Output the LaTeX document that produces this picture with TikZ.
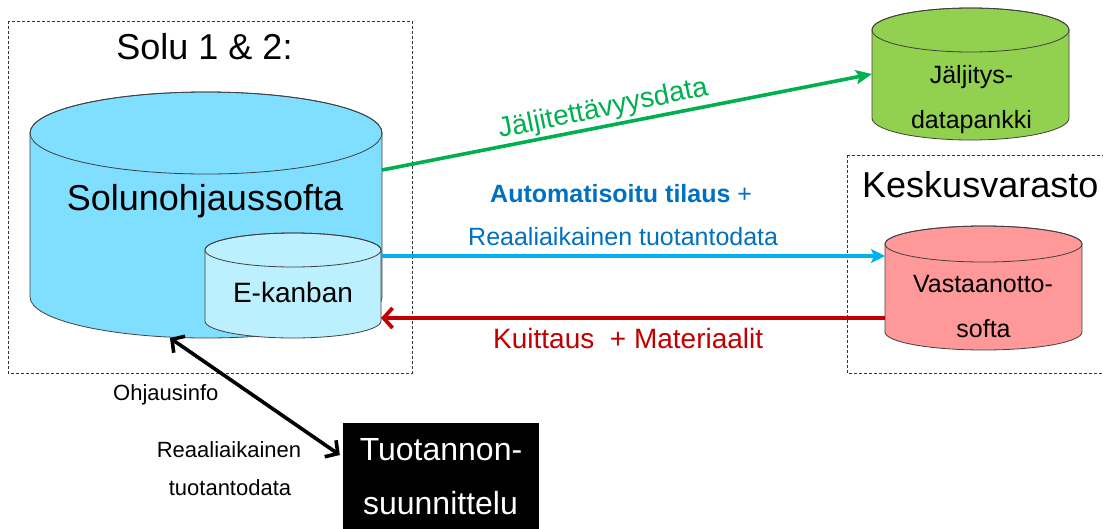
\documentclass[tikz,border=0pt]{standalone}
\usepackage{fontspec}
\setmainfont{Liberation Sans}
\usetikzlibrary{arrows.meta}

\definecolor{cylblue}{RGB}{128,223,255}
\definecolor{cyllight}{RGB}{189,240,255}
\definecolor{cylgreen}{RGB}{146,208,80}
\definecolor{cylred}{RGB}{255,153,153}
\definecolor{lgreen}{RGB}{0,176,80}
\definecolor{lblue}{RGB}{0,176,240}
\definecolor{tblue}{RGB}{0,112,192}
\definecolor{lred}{RGB}{192,0,0}

\newcommand{\setfs}[1]{\fontsize{#1}{#1}\selectfont}

% upright cylinder: x-left, x-right, y of top ellipse centre, y of bottom ellipse centre, y radius, fill
\newcommand{\uprightcyl}[6]{%
  \pgfmathsetmacro\cylcx{(#1+#2)/2}%
  \pgfmathsetmacro\cylrx{(#2-#1)/2}%
  \filldraw[cylline, fill=#6] (#1,#3) -- (#1,#4)
    arc[start angle=180, end angle=360, x radius=\cylrx, y radius=#5]
    -- (#2,#3)
    arc[start angle=0, end angle=180, x radius=\cylrx, y radius=#5] -- cycle;
  \draw[cylline] (\cylcx,#3) ellipse[x radius=\cylrx, y radius=#5];
}

\begin{document}
\begin{tikzpicture}[x=1pt, y=1pt,
  cylline/.style={draw=black!75, line width=0.8pt},
  area/.style={draw=black!80, line width=0.8pt, dash pattern=on 3pt off 2pt},
  anchorbox/.style={inner sep=0pt, outer sep=0pt},
  txt/.style={inner sep=0pt, anchor=base},
  garrow/.style={draw=lgreen, line width=3.6pt, -{Stealth[length=16pt, width=14pt, inset=3pt]}},
  blarrow/.style={draw=lblue, line width=3.2pt, -{Stealth[length=14pt, width=14pt, inset=3pt]}},
  rarrow/.style={draw=lred, line width=3.8pt, -{Straight Barb[length=9pt, width=20pt]}},
  karrow/.style={draw=black, line width=3.6pt, {Straight Barb[length=9pt, width=20pt]}-{Straight Barb[length=9pt, width=20pt]}}
]
\useasboundingbox (0,0) rectangle (1103,-528);

% dashed area frames
\draw[area] (8,-21) rectangle (412,-373);
\draw[area] (847,-155) -- (847,-373) -- (1112,-373);
\draw[area] (847,-155) -- (1112,-155);

% cylinders
\uprightcyl{30}{382}{-133}{-297}{41}{cylblue}
\uprightcyl{205}{381}{-250}{-321}{17}{cyllight}
\uprightcyl{872}{1069}{-30}{-118}{22}{cylgreen}
\uprightcyl{885}{1082}{-244}{-332}{18}{cylred}

% anchor nodes spanning the cylinder bodies
\node[anchorbox, minimum width=352pt, minimum height=164pt] (solu) at (206,-215) {};
\node[anchorbox, minimum width=176pt, minimum height=71pt] (ekan) at (293,-285.5) {};
\node[anchorbox, minimum width=197pt, minimum height=88pt] (jalj) at (970.5,-74) {};
\node[anchorbox, minimum width=197pt, minimum height=88pt] (vast) at (983.5,-288) {};

% production planning box
\node[fill=black, inner sep=0pt, minimum width=196pt, minimum height=112pt] (tuot) at (441,-479) {};

% connectors
\draw[garrow] ([yshift=45pt]solu.east) -- (jalj.west);
\draw[blarrow] ([yshift=-41pt]solu.east) -- ([yshift=32pt]vast.west);
\draw[rarrow] ([yshift=-30pt]vast.west) -- ([yshift=-32.5pt]ekan.east);
\draw[karrow] ([xshift=-36pt, yshift=-41pt]solu.south) -- ([xshift=-3pt, yshift=24pt]tuot.west);

% texts
\node[txt, font=\setfs{36}] (t1) at (204.5,-59) {Solu 1 \& 2:};
\node[txt, font=\setfs{36}] (t2) at (205,-210) {Solunohjaussofta};
\node[txt, font=\setfs{28}] (t3) at (293,-302) {E-kanban};
\node[txt, font=\setfs{25}] (t4) at (971.5,-83) {Jäljitys-};
\node[txt, font=\setfs{25}] (t5) at (971.5,-128) {datapankki};
\node[txt, anchor=base west, font=\setfs{36}] (t6) at (862,-197) {Keskusvarasto};
\node[txt, font=\setfs{25}] (t7) at (983,-292) {Vastaanotto-};
\node[txt, font=\setfs{25}] (t8) at (983.5,-337) {softa};
\node[txt, anchor=base west, rotate=11.6, text=lgreen, font=\setfs{28}] (t9) at (500,-138) {Jäljitettävyysdata};
\node[txt, anchor=base west, text=tblue, font=\setfs{25}] (t10) at (490,-202) {\bfseries Automatisoitu tilaus \mdseries +};
\node[txt, anchor=base west, text=tblue, font=\setfs{25}] (t11) at (468,-245) {Reaaliaikainen tuotantodata};
\node[txt, anchor=base west, text=lred, font=\setfs{28}] (t12) at (493,-348) {Kuittaus\ \ + Materiaalit};
\node[txt, anchor=base west, font=\setfs{22}] (t13) at (113,-400) {Ohjausinfo};
\node[txt, font=\setfs{22}] (t14) at (229,-457) {Reaaliaikainen};
\node[txt, font=\setfs{22}] (t15) at (230,-495) {tuotantodata};
\node[txt, text=white, font=\setfs{32}] (t16) at (441,-460) {Tuotannon-};
\node[txt, text=white, font=\setfs{32}] (t17) at (440.5,-514) {suunnittelu};
\end{tikzpicture}
\end{document}
